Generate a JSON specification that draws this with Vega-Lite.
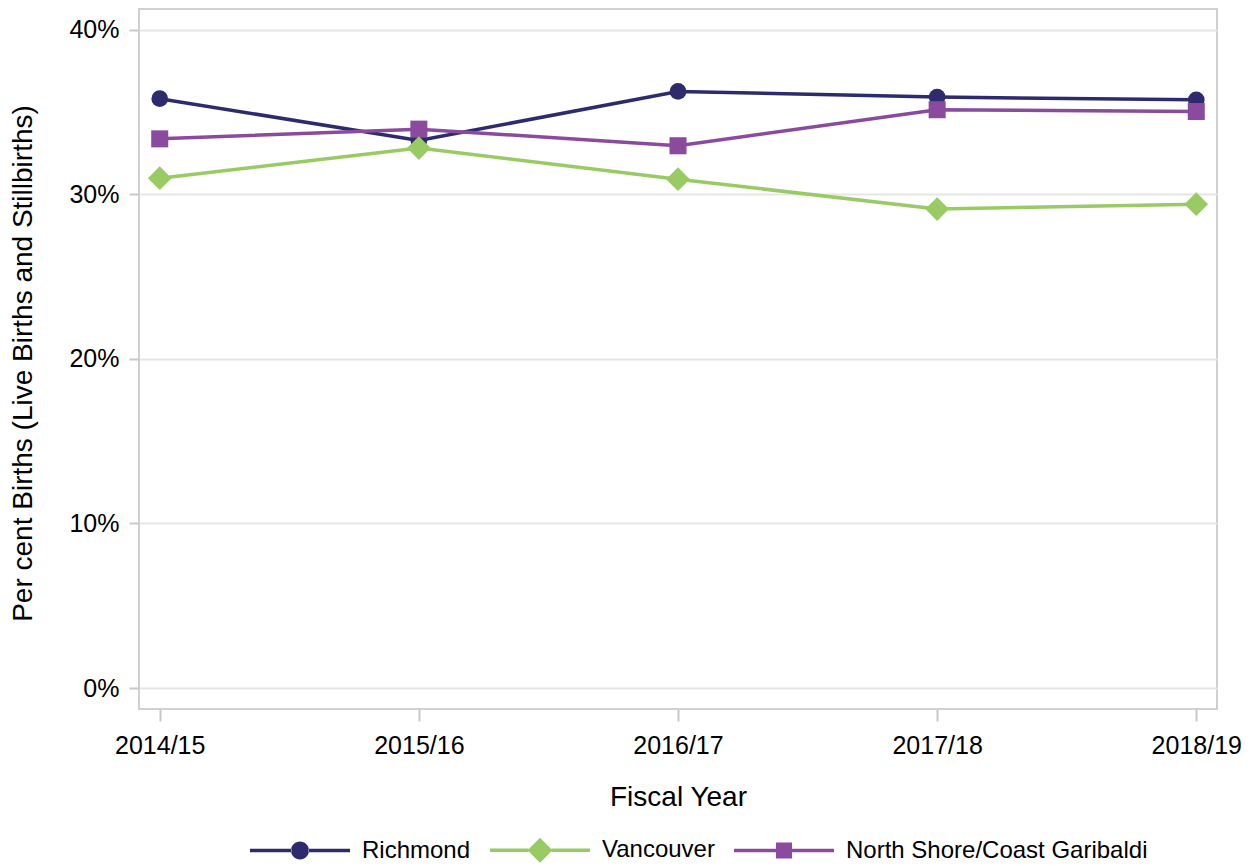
{
  "$schema": "https://vega.github.io/schema/vega-lite/v6.json",
  "width": 1078,
  "height": 700,
  "autosize": {"type": "none"},
  "padding": {"left": 139, "top": 9, "right": 35, "bottom": 156},
  "background": "white",
  "config": {
    "font": "Liberation Sans",
    "view": {"stroke": "#d0d0d0", "strokeWidth": 2},
    "axis": {
      "labelFont": "Liberation Sans",
      "titleFont": "Liberation Sans",
      "labelColor": "black",
      "titleColor": "black",
      "titleFontWeight": "normal",
      "domain": false,
      "tickColor": "#c8c8c8",
      "tickWidth": 2,
      "gridColor": "#e6e6e6",
      "gridWidth": 2
    }
  },
  "data": {
    "values": [
      {"year": "2014/15", "region": "Richmond", "pct": 0.3581},
      {"year": "2015/16", "region": "Richmond", "pct": 0.3327},
      {"year": "2016/17", "region": "Richmond", "pct": 0.3625},
      {"year": "2017/18", "region": "Richmond", "pct": 0.3591},
      {"year": "2018/19", "region": "Richmond", "pct": 0.3574},
      {"year": "2014/15", "region": "North Shore/Coast Garibaldi", "pct": 0.3337},
      {"year": "2015/16", "region": "North Shore/Coast Garibaldi", "pct": 0.3396},
      {"year": "2016/17", "region": "North Shore/Coast Garibaldi", "pct": 0.3295},
      {"year": "2017/18", "region": "North Shore/Coast Garibaldi", "pct": 0.3514},
      {"year": "2018/19", "region": "North Shore/Coast Garibaldi", "pct": 0.3503},
      {"year": "2014/15", "region": "Vancouver", "pct": 0.3098},
      {"year": "2015/16", "region": "Vancouver", "pct": 0.3281},
      {"year": "2016/17", "region": "Vancouver", "pct": 0.3092},
      {"year": "2017/18", "region": "Vancouver", "pct": 0.2910},
      {"year": "2018/19", "region": "Vancouver", "pct": 0.2940}
    ]
  },
  "encoding": {
    "x": {
      "field": "year",
      "type": "ordinal",
      "scale": {"type": "point", "padding": 0.08},
      "axis": {
        "title": "Fiscal Year",
        "labelAngle": 0,
        "labelFontSize": 25,
        "tickSize": 12,
        "labelPadding": 12,
        "titleFontSize": 28,
        "titleY": 96,
        "titleBaseline": "alphabetic",
        "grid": false
      }
    },
    "y": {
      "field": "pct",
      "type": "quantitative",
      "scale": {"domain": [-0.01276, 0.4126], "nice": false, "zero": false},
      "axis": {
        "values": [0, 0.1, 0.2, 0.3, 0.4],
        "format": ".0%",
        "title": "Per cent Births (Live Births and Stillbirths)",
        "labelFontSize": 25,
        "tickSize": 10,
        "labelPadding": 10,
        "titleFontSize": 28,
        "titleAngle": -90,
        "titleX": -108,
        "titleY": 354,
        "titleAlign": "center",
        "titleBaseline": "alphabetic"
      }
    }
  },
  "resolve": {"legend": {"color": "independent", "shape": "independent"}},
  "layer": [
    {
      "mark": {"type": "line", "strokeWidth": 3.5},
      "encoding": {
        "color": {
          "field": "region",
          "type": "nominal",
          "scale": {
            "domain": ["Richmond", "Vancouver", "North Shore/Coast Garibaldi"],
            "range": ["#2d2b6e", "#98cb63", "#8a4a9e"]
          },
          "legend": null
        }
      }
    },
    {
      "transform": [{"filter": "datum.region === 'Richmond'"}],
      "mark": {"type": "point", "filled": true, "opacity": 1, "shape": "circle", "size": 280},
      "encoding": {"color": {"field": "region", "type": "nominal", "legend": null}}
    },
    {
      "transform": [{"filter": "datum.region === 'North Shore/Coast Garibaldi'"}],
      "mark": {"type": "point", "filled": true, "opacity": 1, "shape": "square", "size": 290},
      "encoding": {"color": {"field": "region", "type": "nominal", "legend": null}}
    },
    {
      "transform": [{"filter": "datum.region === 'Vancouver'"}],
      "mark": {"type": "point", "filled": true, "opacity": 1, "shape": "diamond", "size": 560},
      "encoding": {"color": {"field": "region", "type": "nominal", "legend": null}}
    },
    {
      "transform": [{"filter": "false"}],
      "mark": {"type": "point", "filled": true, "opacity": 1},
      "encoding": {
        "color": {
          "field": "region",
          "type": "nominal",
          "legend": {
            "orient": "none",
            "legendX": 111,
            "legendY": 791,
            "direction": "horizontal",
            "columns": 3,
            "title": null,
            "padding": 0,
            "labelFont": "Liberation Sans",
            "labelFontSize": 24,
            "labelColor": "black",
            "labelLimit": 0,
            "labelOffset": 12,
            "columnPadding": 19,
            "symbolSize": 10000,
            "symbolStrokeWidth": 0,
            "symbolOpacity": 1
          }
        },
        "shape": {
          "field": "region",
          "type": "nominal",
          "scale": {
            "domain": ["Richmond", "Vancouver", "North Shore/Coast Garibaldi"],
            "range": [
              "M-1,-0.035H-0.17V0.035H-1Z M0.17,-0.035H1V0.035H0.17Z M-0.18,0A0.18,0.18 0 1 0 0.18,0A0.18,0.18 0 1 0 -0.18,0Z",
              "M-1,-0.035H-0.23V0.035H-1Z M0.23,-0.035H1V0.035H0.23Z M-0.25,0L0,-0.25L0.25,0L0,0.25Z",
              "M-1,-0.035H-0.16V0.035H-1Z M0.16,-0.035H1V0.035H0.16Z M-0.16,-0.16H0.16V0.16H-0.16Z"
            ]
          }
        }
      }
    }
  ]
}
